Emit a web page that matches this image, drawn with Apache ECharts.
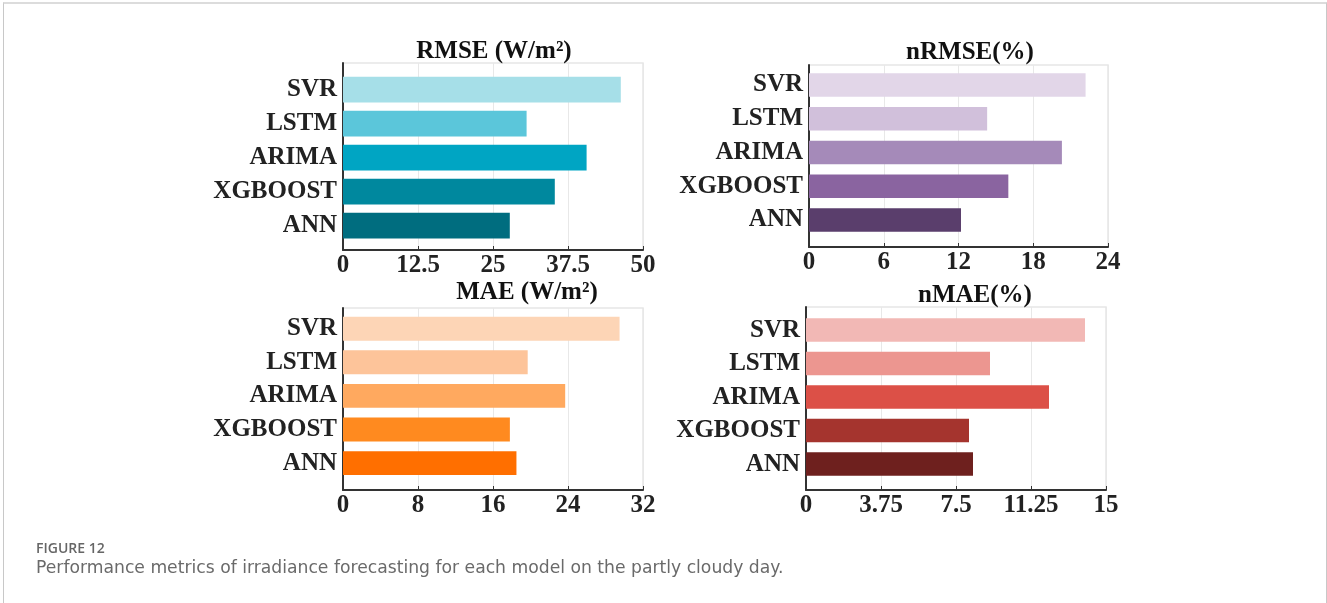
<!DOCTYPE html>
<html>
<head>
<meta charset="utf-8">
<script src="https://cdn.jsdelivr.net/npm/echarts@6/dist/echarts.min.js"></script>
<style>
  html, body { margin: 0; padding: 0; background: #fff; }
  #frame { position: absolute; left: 3px; top: 2px; width: 1322px; height: 620px;
           border-left: 1px solid #c8c8c8; border-right: 1px solid #c8c8c8; border-top: 2px solid #dcdcdc; }
  #chart { position: absolute; left: 0; top: 0; width: 1327px; height: 603px; }
</style>
</head>
<body>
<div id="frame"></div>
<div id="chart"></div>
<script>
// ---- data (bottom to top) ----
const categories = ['ANN', 'XGBOOST', 'ARIMA', 'LSTM', 'SVR'];
const rmse  = [27.8, 35.3, 40.6, 30.6, 46.3];
const nrmse = [12.2, 16.0, 20.3, 14.3, 22.2];
const mae   = [18.5, 17.8, 23.7, 19.7, 29.5];
const nmae  = [8.35, 8.15, 12.15, 9.2, 13.95];

const titles = ['RMSE (W/m²)', 'nRMSE(%)', 'MAE (W/m²)', 'nMAE(%)'];
const axisMax = [50, 24, 32, 15];
const axisStep = [12.5, 6, 8, 3.75];

const captionLabel = 'FIGURE 12';
const captionText = 'Performance metrics of irradiance forecasting for each model on the partly cloudy day.';

// ---- styles ----
const palettes = [
  ['#006d7f', '#00889e', '#00a5c3', '#5bc6da', '#a6dfe8'],
  ['#5a3e6c', '#8a64a0', '#a58ab9', '#d1c0db', '#e2d6e8'],
  ['#ff6f00', '#ff8a1f', '#ffa95f', '#fdc49a', '#fdd5b6'],
  ['#6e201e', '#a5342e', '#dc5047', '#ec9690', '#f2b8b5']
];
const seriesData = [rmse, nrmse, mae, nmae];

// frame (axes box) and bar band layout per panel
const layout = [
  { left: 343, width: 300, top: 63,  height: 187, barTop: 72.7,  barH: 170,   gap: '24%', tx: 489, ty: 34 },
  { left: 809, width: 299, top: 65,  height: 182, barTop: 68.1,  barH: 168.8, gap: '31%', tx: 965, ty: 35 },
  { left: 343, width: 300, top: 308, height: 182, barTop: 311.9, barH: 168,   gap: '29%', tx: 522, ty: 275 },
  { left: 806, width: 300, top: 307, height: 183, barTop: 313.3, barH: 167.5, gap: '30%', tx: 970, ty: 278 }
];

const serif = '"Liberation Serif", "Times New Roman", serif';
const grid = [], xAxis = [], yAxis = [], series = [], title = [];

layout.forEach((L, i) => {
  // frame grid
  grid.push({ left: L.left, top: L.top, width: L.width, height: L.height,
              show: true, borderColor: '#e6e6e6', borderWidth: 1.5, backgroundColor: 'transparent' });
  // bar grid
  grid.push({ left: L.left, top: L.barTop, width: L.width, height: L.barH });

  xAxis.push({
    gridIndex: 2 * i, type: 'value', min: 0, max: axisMax[i], interval: axisStep[i],
    axisLine: { show: true, lineStyle: { color: '#333', width: 2 } },
    axisTick: { show: true, inside: true, length: 4, lineStyle: { color: '#333', width: 1 } },
    axisLabel: { show: true, margin: 3, color: '#222', fontFamily: serif, fontWeight: 'bold', fontSize: 25 },
    splitLine: { show: true, lineStyle: { color: '#e8e8e8', width: 1 } }
  });
  xAxis.push({
    gridIndex: 2 * i + 1, type: 'value', min: 0, max: axisMax[i], show: false
  });
  yAxis.push({
    gridIndex: 2 * i, type: 'value', min: 0, max: 1,
    axisLine: { show: true, lineStyle: { color: '#333', width: 2 } },
    axisTick: { show: false }, axisLabel: { show: false }, splitLine: { show: false }
  });
  yAxis.push({
    gridIndex: 2 * i + 1, type: 'category', data: categories,
    axisLine: { show: false }, axisTick: { show: false },
    axisLabel: { show: true, margin: 6, color: '#222', fontFamily: serif, fontWeight: 'bold', fontSize: 25 },
    splitLine: { show: false }
  });
  series.push({
    type: 'bar', xAxisIndex: 2 * i + 1, yAxisIndex: 2 * i + 1,
    barCategoryGap: L.gap,
    data: seriesData[i].map((v, k) => ({ value: v, itemStyle: { color: palettes[i][k] } })),
    silent: true
  });
  title.push({
    text: titles[i], left: L.tx, top: L.ty, textAlign: 'center',
    textStyle: { fontFamily: serif, fontWeight: 'bold', fontSize: 25, color: '#111' }
  });
});

title.push({ text: captionLabel, left: 36, top: 542, padding: 0,
  textStyle: { fontFamily: '"Open Sans", sans-serif', fontWeight: 600, fontSize: 14, color: '#666' } });
title.push({ text: captionText, left: 36, top: 560, padding: 0,
  textStyle: { fontFamily: '"DejaVu Sans", sans-serif', fontWeight: 'normal', fontSize: 17.2, color: '#6a6a6a' } });

const chart = echarts.init(document.getElementById('chart'), null, { renderer: 'canvas' });
chart.setOption({ animation: false, backgroundColor: 'transparent', title, grid, xAxis, yAxis, series });
</script>
</body>
</html>
